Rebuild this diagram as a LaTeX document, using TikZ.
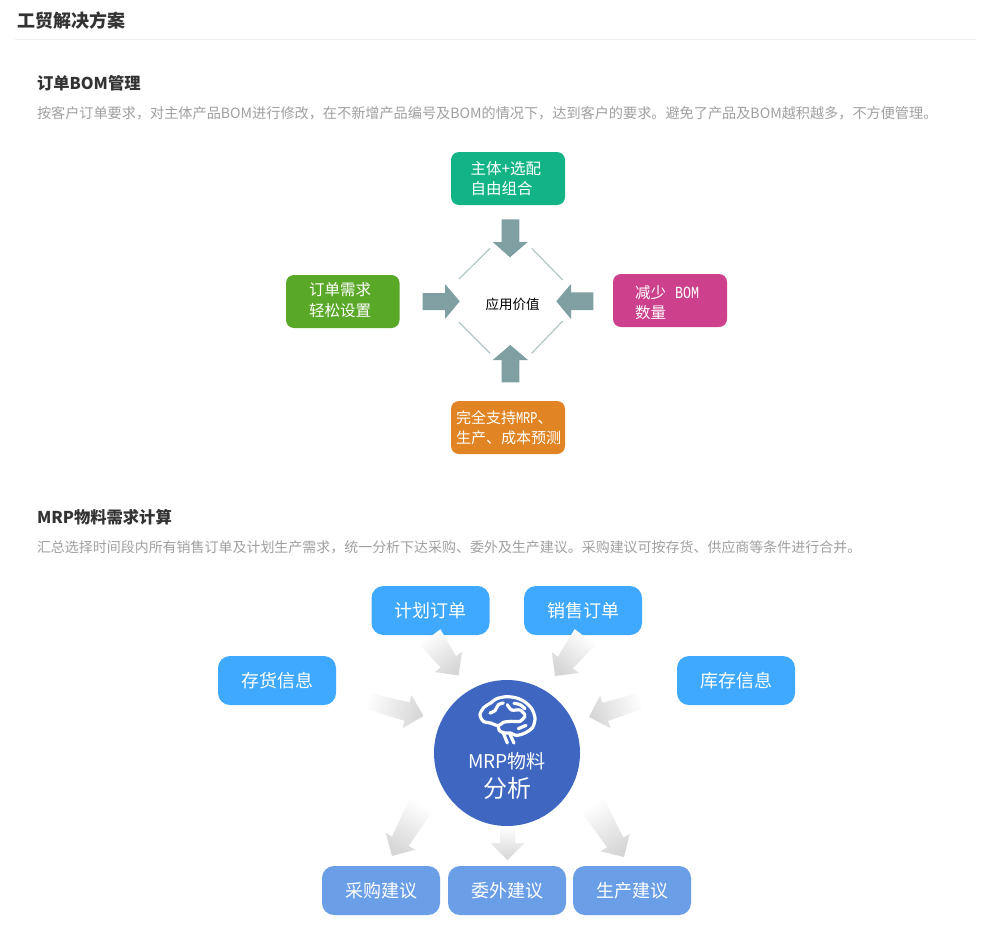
\documentclass[tikz,border=0pt]{standalone}
\usepackage{fontspec}
\setmainfont{Noto Sans CJK SC}
\newfontfamily\monofnt{Liberation Mono}
\usetikzlibrary{calc}
\definecolor{titlec}{HTML}{333333}
\definecolor{descc}{HTML}{A0A0A0}
\definecolor{rulec}{HTML}{EEEEEE}
\definecolor{teal1}{HTML}{12B485}
\definecolor{green1}{HTML}{5AA827}
\definecolor{pink1}{HTML}{CC408C}
\definecolor{orange1}{HTML}{E08424}
\definecolor{arrowc}{HTML}{7F9FA3}
\definecolor{diamc}{HTML}{B2C6C8}
\definecolor{skyb}{HTML}{3FA9FF}
\definecolor{softb}{HTML}{6A9FE8}
\definecolor{deepb}{HTML}{3F67C2}
\tikzset{
  x=1pt,y=-1pt,
  txt/.style={inner sep=0pt,outer sep=0pt,anchor=west},
  h1/.style={txt,text=titlec,font=\fontsize{18}{20}\selectfont\bfseries},
  h2/.style={txt,text=titlec,font=\fontsize{16.3}{18}\selectfont\bfseries},
  desc/.style={txt,text=descc},
  boxtext/.style={txt,text=white,font=\fontsize{15.5}{20}\selectfont},
  bbox/.style={rounded corners=12pt,inner sep=0pt,text=white,minimum width=118pt,minimum height=49pt,font=\fontsize{18}{20}\selectfont},
  solidarrow/.style={fill=arrowc,draw=none},
  diam/.style={draw=diamc,line width=1.2pt},
  brainline/.style={white,line width=3.2pt,line cap=round,line join=round},
}
% gradient arrow: tail, tip, tail half width, shaft half width, head length
\newcommand{\garrow}[5]{%
  \path let \p1=(#1),\p2=(#2),\n1={atan2(\y2-\y1,\x2-\x1)+90} in
    coordinate (hb) at ($(#2)!#5pt!(#1)$)
    coordinate (s1) at ($(hb)!#4pt!90:(#2)$)
    coordinate (s2) at ($(hb)!#4pt!-90:(#2)$)
    coordinate (b1) at ($(hb)!17pt!90:(#2)$)
    coordinate (b2) at ($(hb)!17pt!-90:(#2)$)
    coordinate (t1) at ($(#1)!#3pt!90:(#2)$)
    coordinate (t2) at ($(#1)!#3pt!-90:(#2)$)
    [shade,shading=axis,top color=white,bottom color=black!16,shading angle=\n1]
    (t1)--(s1)--(b1)--(#2)--(b2)--(s2)--(t2)--cycle;%
}
\begin{document}
\begin{tikzpicture}
\useasboundingbox (0,0) rectangle (996,940);
\fill[white] (0,0) rectangle (996,940);
\node[h1] (title) at (17,21) {工贸解决方案};
\coordinate (r1) at (15,39.5); \coordinate (r2) at (976,39.5);
\draw[rulec,line width=1pt] (r1)--(r2);
\node[h2] (s1t) at (37,83) {订单BOM管理};
\node[desc,font=\fontsize{14.15}{16}\selectfont] (s1d) at (37,113) {按客户订单要求，对主体产品BOM进行修改，在不新增产品编号及BOM的情况下，达到客户的要求。避免了产品及BOM越积越多，不方便管理。};
\node[h2] (s2t) at (37,517) {MRP物料需求计算};
\node[desc,font=\fontsize{13.97}{16}\selectfont] (s2d) at (37,547) {汇总选择时间段内所有销售订单及计划生产需求，统一分析下达采购、委外及生产建议。采购建议可按存货、供应商等条件进行合并。};

% diagram 1 boxes
\fill[teal1,rounded corners=8pt] (451,152) rectangle (565,205);
\fill[green1,rounded corners=8pt] (286,275) rectangle (399.5,328);
\fill[pink1,rounded corners=8pt] (613,274) rectangle (727,327);
\fill[orange1,rounded corners=8pt] (451,401) rectangle (565,454);
\node[boxtext] (a1) at (470.5,168.5) {主体+选配};
\node[boxtext] (a2) at (470.5,188.5) {自由组合};
\node[boxtext] (b1n) at (309,290) {订单需求};
\node[boxtext] (b2n) at (309,310.5) {轻松设置};
\node[boxtext] (c1) at (635,292.5) {减少\hspace{9pt}\scalebox{0.86}[1.1]{\monofnt BOM}};
\node[boxtext] (c2) at (635,312.5) {数量};
\node[boxtext,font=\fontsize{15}{20}\selectfont] (d1) at (456,418) {完全支持\scalebox{0.8}[1.1]{\monofnt MRP}、};
\node[boxtext,font=\fontsize{15}{20}\selectfont] (d2) at (456,438) {生产、成本预测};
\node[inner sep=0pt,font=\fontsize{13.5}{16}\selectfont,text=black] (val) at (512.5,304) {应用价值};

% solid arrows
\fill[solidarrow] (501.7,219.3)--(519.3,219.3)--(519.3,242)--(527.7,242)--(510,257.3)--(492.7,242)--(501.7,242)--cycle;
\fill[solidarrow] (422.7,293)--(445,293)--(445,284)--(459.7,301.3)--(445,319)--(445,310)--(422.7,310)--cycle;
\fill[solidarrow] (593.3,292.3)--(571,292.3)--(571,284)--(556.3,301.3)--(571,319)--(571,310)--(593.3,310)--cycle;
\fill[solidarrow] (501.7,382.3)--(519.3,382.3)--(519.3,360)--(528,360)--(510.3,345)--(492.7,360)--(501.7,360)--cycle;
\draw[diam] (490,248.3)--(459,279);
\draw[diam] (531.7,248.3)--(562.7,280);
\draw[diam] (459,322.3)--(490,353.3);
\draw[diam] (562.7,321)--(531.7,353.3);

% diagram 2 boxes
\node[bbox,fill=skyb] (plan) at (430.5,610.5) {计划订单};
\node[bbox,fill=skyb] (sale) at (583,610.5) {销售订单};
\node[bbox,fill=skyb] (goods) at (277,680.5) {存货信息};
\node[bbox,fill=skyb] (stock) at (736,680.5) {库存信息};
\node[bbox,fill=softb] (buy) at (381,890.5) {采购建议};
\node[bbox,fill=softb] (out) at (507,890.5) {委外建议};
\node[bbox,fill=softb] (make) at (632,890.5) {生产建议};

% gradient arrows
\coordinate (ta) at (430,637); \coordinate (pa) at (458.5,675.5);
\coordinate (tb) at (585,637); \coordinate (pb) at (555,676);
\coordinate (tc) at (364,700); \coordinate (pc) at (423.5,716);
\coordinate (td) at (643,700); \coordinate (pd) at (589,717);
\coordinate (te) at (421,805); \coordinate (pe) at (392,856);
\coordinate (tf) at (507.5,826); \coordinate (pf) at (507.5,860);
\coordinate (tg) at (592.6,805); \coordinate (pg) at (624,857);
\garrow{ta}{pa}{13}{9.5}{17}
\garrow{tb}{pb}{13}{9.5}{17}
\garrow{tc}{pc}{8}{9.5}{17}
\garrow{td}{pd}{8}{9.5}{17}
\garrow{te}{pe}{13}{9.5}{17}
\garrow{tf}{pf}{7.5}{7.5}{17}
\garrow{tg}{pg}{13}{9.5}{17}

% centre
\node[circle,fill=deepb,minimum size=146pt,inner sep=0pt] (hub) at (507,753) {};
\node[inner sep=0pt,text=white,font=\fontsize{19}{20}\selectfont] (hub1) at (507,761) {MRP物料};
\node[inner sep=0pt,text=white,font=\fontsize{24}{26}\selectfont] (hub2) at (507,788) {分析};

% brain icon
\begin{scope}[shift={(470,688)},scale=0.3333]
\tikzset{x=1pt,y=-1pt}
\draw[brainline] plot[smooth] coordinates {(62,105)(40,100)(30,80)(42,58)(62,45)(80,32)(110,26)(140,30)(165,42)(185,62)(195,90)(188,118)(165,135)(140,142)(122,135)};
\draw[brainline] plot[smooth] coordinates {(62,105)(85,113)(100,103)(125,100)(150,100)(165,85)};
\draw[brainline] plot[smooth] coordinates {(85,113)(88,128)(105,135)(122,135)};
\draw[brainline] (100,135)--(112,165);
\draw[brainline] (118,135)--(132,165);
\draw[brainline] plot[smooth] coordinates {(60,75)(75,68)(85,50)(100,45)};
\draw[brainline] plot[smooth] coordinates {(112,50)(125,66)(150,66)(165,80)};
\draw[brainline] plot[smooth] coordinates {(132,46)(150,50)(165,62)};
\draw[brainline] (145,122)--(168,112);
\end{scope}
\end{tikzpicture}
\end{document}
